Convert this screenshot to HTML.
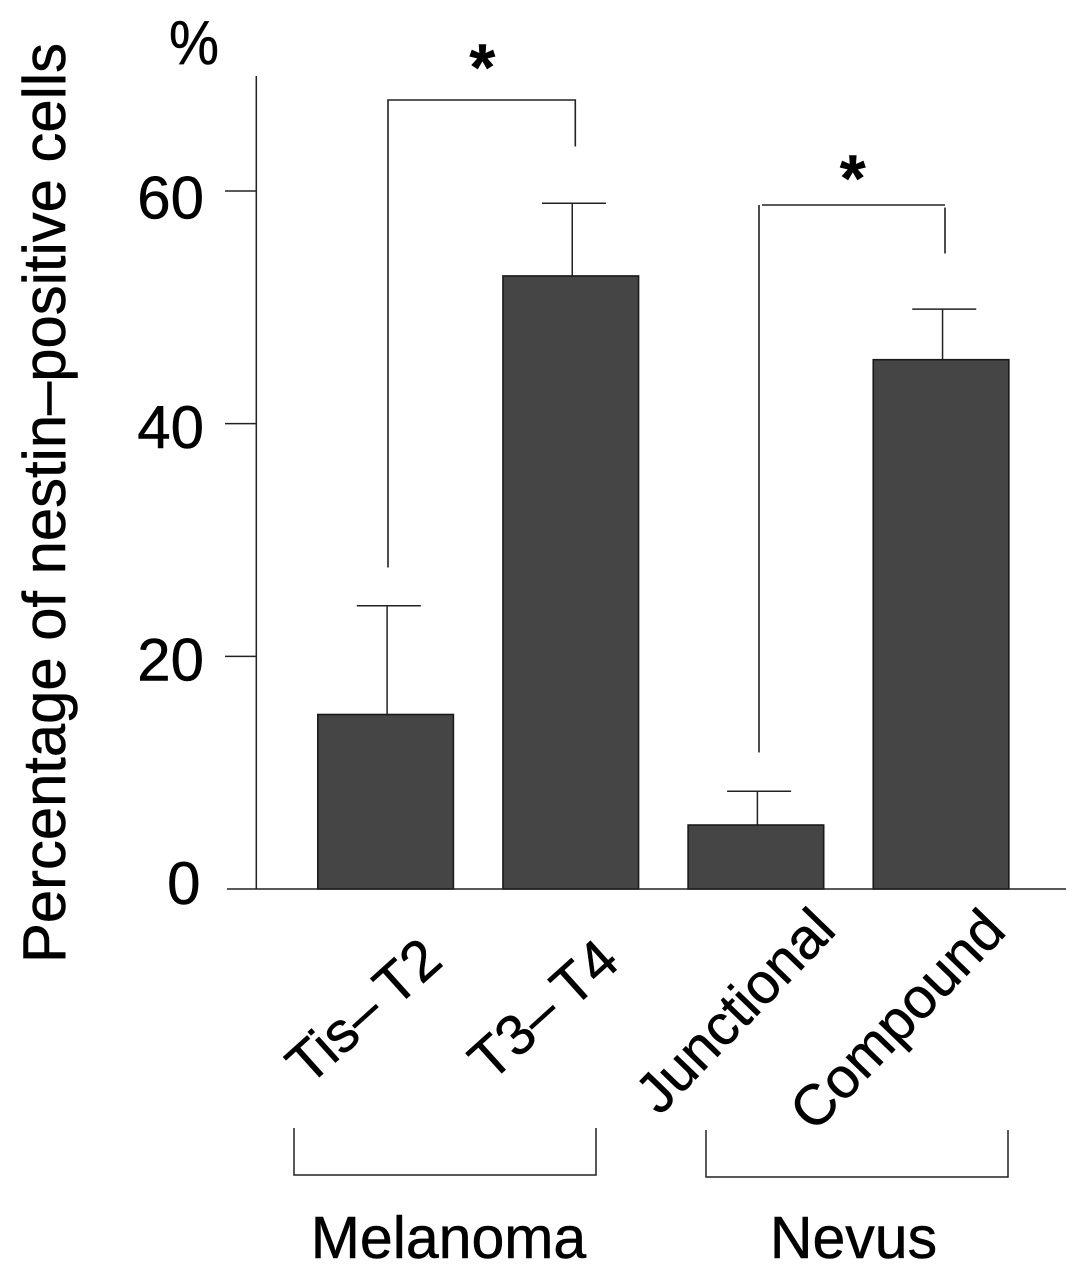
<!DOCTYPE html>
<html lang="en">
<head>
<meta charset="utf-8">
<title>Percentage of nestin-positive cells</title>
<style>
html,body{margin:0;padding:0;background:#fff;}
svg{display:block;font-family:"Liberation Sans",Arial,sans-serif;fill:#000;}
text{stroke:#000;stroke-width:0.5px;}
</style>
</head>
<body>
<svg id="chart" width="1087" height="1280" viewBox="0 0 1087 1280" xmlns="http://www.w3.org/2000/svg">
  <rect x="0" y="0" width="1087" height="1280" fill="#fff"/>
  <text transform="translate(65,963) rotate(-90)" font-size="60" textLength="920" lengthAdjust="spacingAndGlyphs">Percentage of nestin–positive cells</text>
  <text x="169" y="64" font-size="62" textLength="50" lengthAdjust="spacingAndGlyphs">%</text>

  <g fill="none" stroke="#222" stroke-width="1.5">
    <polyline points="294,1128 294,1175 596,1175 596,1128"/>
  </g>
  <g fill="none" stroke="#222" stroke-width="1.5">
    <polyline points="706,1130 706,1177 1008,1177 1008,1130"/>
  </g>
  <text x="448.5" y="1258" font-size="59" text-anchor="middle">Melanoma</text>
  <text x="853.5" y="1258" font-size="59" text-anchor="middle">Nevus</text>

  <g>
    <polyline fill="none" stroke="#222" stroke-width="1.6" points="388,567.5 388,100 575.3,100 575.3,146.5"/>
    <text x="482.3" y="90" font-size="66" font-weight="bold" text-anchor="middle">*</text>
  </g>
  <g>
    <line stroke="#222" stroke-width="1.6" x1="759" y1="205" x2="759" y2="752.5"/>
    <line stroke="#222" stroke-width="1.6" x1="762" y1="205" x2="945" y2="205"/>
    <line stroke="#222" stroke-width="1.6" x1="945" y1="207.5" x2="945" y2="253.5"/>
    <text x="852.7" y="201" font-size="66" font-weight="bold" text-anchor="middle">*</text>
  </g>

  <g id="marks"></g>
  <g id="axes"></g>
  <g id="cats"></g>
</svg>
<script>
const categories = ["Tis– T2", "T3– T4", "Junctional", "Compound"];
const values = [15.0, 52.7, 5.5, 45.5];
const errorTops = [24.35, 58.95, 8.4, 49.85];
const yTicks = [0, 20, 40, 60];

const NS = "http://www.w3.org/2000/svg";
const y0 = 889, unit = 11.633, firstLeft = 317.8, step = 185.15, barW = 135.6, capHalf = 32;
function yScale(v) { return y0 - v * unit; }
function xScale(i) { return firstLeft + i * step; }
function make(tag, attrs, parent) {
  const el = document.createElementNS(NS, tag);
  for (const k in attrs) el.setAttribute(k, attrs[k]);
  parent.appendChild(el);
  return el;
}
const marks = document.getElementById("marks");
const axes = document.getElementById("axes");
const cats = document.getElementById("cats");

values.forEach(function (v, i) {
  const left = xScale(i);
  const stemX = left + 69.3;
  const capX = left + 71;
  const stem = make("line", { x1: stemX, x2: stemX, y1: yScale(v), y2: yScale(errorTops[i]), stroke: "#222", "stroke-width": 1.5 }, marks);
  
  
  const cap = make("line", { x1: capX - capHalf, x2: capX + capHalf, y1: yScale(errorTops[i]), y2: yScale(errorTops[i]), stroke: "#222", "stroke-width": 1.5 }, marks);
  
  
  const bar = make("rect", { x: left, y: yScale(v), width: barW, height: y0 - yScale(v), fill: "#454545", stroke: "#1a1a1a", "stroke-width": 1.6 }, marks);
  
  
});

const yAxis = make("line", { x1: 256.3, x2: 256.3, y1: 76, y2: y0, stroke: "#222", "stroke-width": 1.5 }, axes);


const xAxis = make("line", { x1: 227, x2: 1066, y1: y0, y2: y0, stroke: "#222", "stroke-width": 1.5 }, axes);



yTicks.forEach(function (t, i) {
  const dy = [15, 24.3, 24.5, 27.3][i];
  const endX = i === 0 ? 200.5 : 204;
  if (i > 0) {
    const tick = make("line", { x1: 225, x2: 256, y1: yScale(t), y2: yScale(t), stroke: "#222", "stroke-width": 1.5 }, axes);
    
    
  }
  const label = make("text", { x: endX, y: yScale(t) + dy, "font-size": 60, "text-anchor": "end" }, axes);
  
  
  label.textContent = t;
});

categories.forEach(function (c, i) {
  const ax = [445, 622, 838, 1008][i];
  const ay = [964, 965, 932, 933][i];
  const angle = i < 2 ? -42 : -46;
  const label = make("text", { transform: "translate(" + ax + "," + ay + ") rotate(" + angle + ")", "font-size": 57, "text-anchor": "end", "word-spacing": i < 2 ? "-3px" : "0" }, cats);
  
  
  label.textContent = c;
});
</script>
</body>
</html>
